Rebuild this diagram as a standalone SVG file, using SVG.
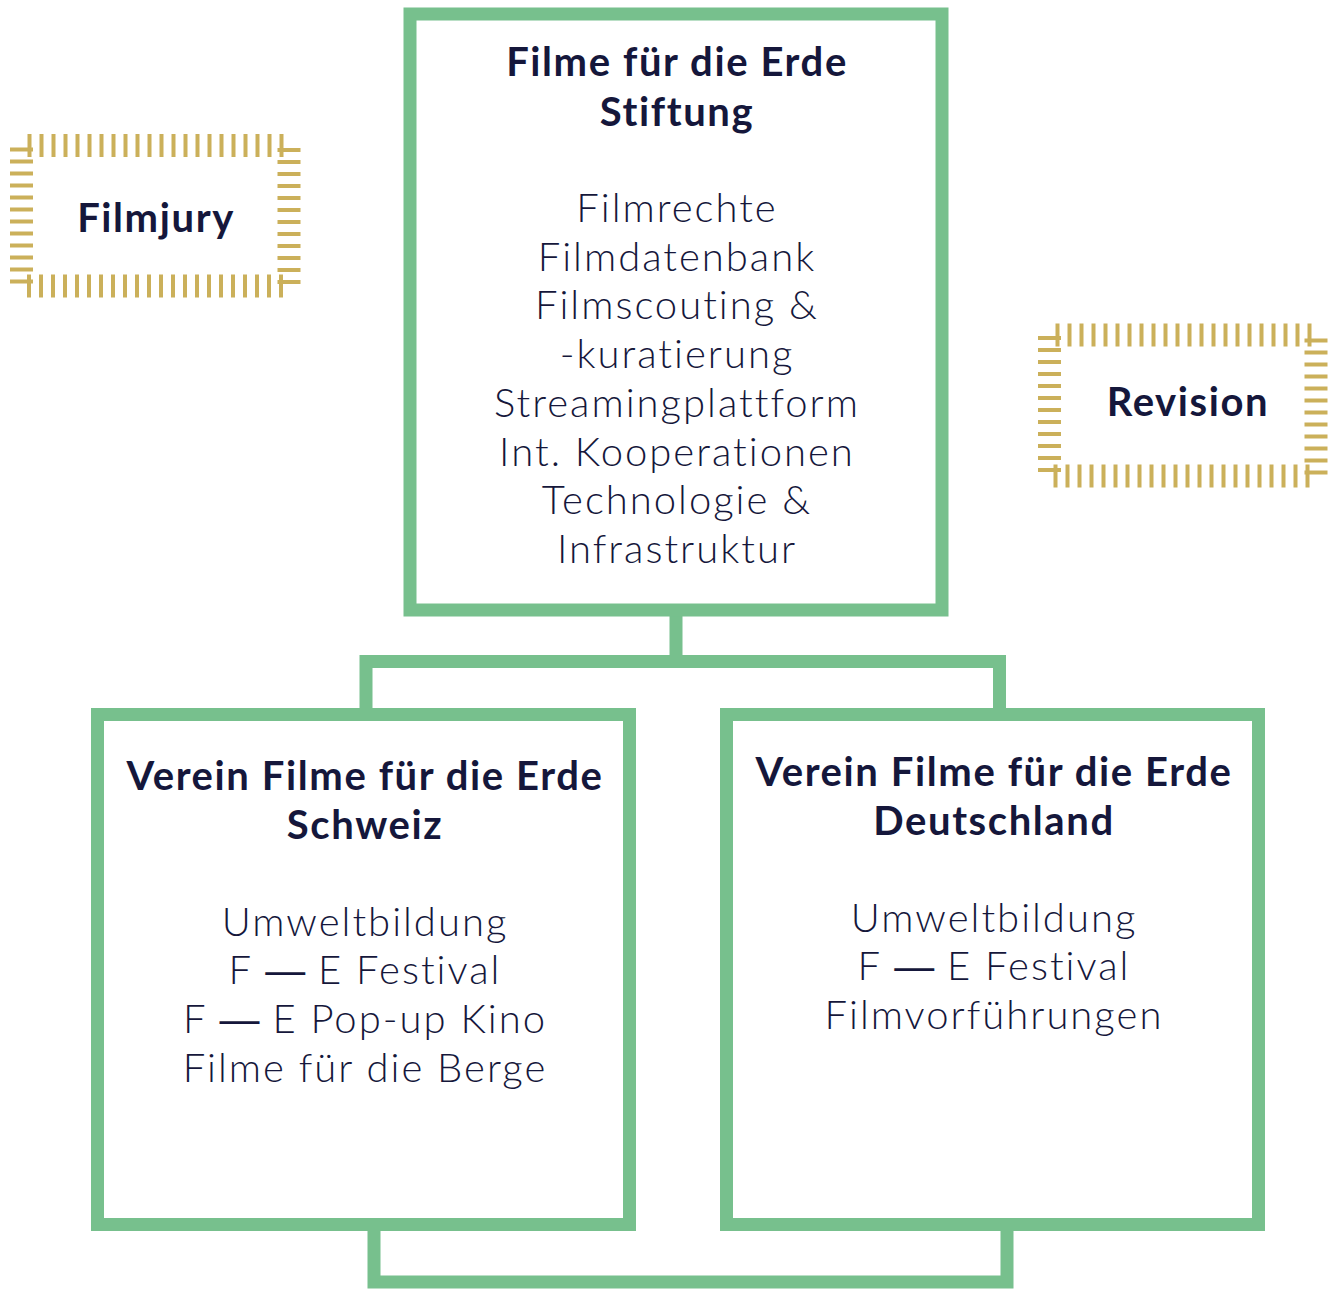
<svg xmlns="http://www.w3.org/2000/svg" width="1338" height="1289" viewBox="0 0 1338 1289">
<style>
.box{fill:#fff;stroke:#77c08d;stroke-width:13}
.con{fill:none;stroke:#77c08d;stroke-width:13;stroke-linejoin:miter;stroke-linecap:butt}
.gold{fill:none;stroke:#cbb05a;stroke-width:23;stroke-dasharray:4 8;stroke-dashoffset:6}
.t{font-family:Lato,"Open Sans","Liberation Sans",sans-serif;font-weight:700;font-size:40px;fill:#15173b;text-anchor:middle;letter-spacing:1.6px}
.b{font-family:Lato,"Open Sans","Liberation Sans",sans-serif;font-weight:300;font-size:40px;fill:#15173b;text-anchor:middle;letter-spacing:2px}
.d{font-family:"Liberation Sans",sans-serif;letter-spacing:0}
</style>
<rect width="1338" height="1289" fill="#fff"/>
<g id="connectors">
<path class="con" d="M676,616 V661.5 M366,708 V661.5 H999.5 V708"/>
<path class="con" d="M374,1231 V1282 H1007 V1231"/>
</g>
<g id="stiftung">
<rect class="box" x="410" y="14" width="532" height="596"/>
<text class="t" x="677" y="76">Filme für die Erde</text>
<text class="t" x="677" y="126">Stiftung</text>
<text class="b" x="677" y="222">Filmrechte</text>
<text class="b" x="677" y="271">Filmdatenbank</text>
<text class="b" x="677" y="319">Filmscouting &amp;</text>
<text class="b" x="677" y="368">-kuratierung</text>
<text class="b" x="677" y="417">Streamingplattform</text>
<text class="b" x="677" y="466">Int. Kooperationen</text>
<text class="b" x="677" y="514">Technologie &amp;</text>
<text class="b" x="677" y="563">Infrastruktur</text>
</g>
<g id="schweiz">
<rect class="box" x="97.5" y="714.5" width="532" height="510"/>
<text class="t" x="365" y="790">Verein Filme für die Erde</text>
<text class="t" x="365" y="839">Schweiz</text>
<text class="b" x="365" y="936">Umweltbildung</text>
<text class="b" x="365" y="984">F <tspan class="d">—</tspan> E Festival</text>
<text class="b" x="365" y="1033">F <tspan class="d">—</tspan> E Pop-up Kino</text>
<text class="b" x="365" y="1082">Filme für die Berge</text>
</g>
<g id="deutschland">
<rect class="box" x="726.5" y="714.5" width="532" height="510"/>
<text class="t" x="994" y="786">Verein Filme für die Erde</text>
<text class="t" x="994" y="835">Deutschland</text>
<text class="b" x="994" y="932">Umweltbildung</text>
<text class="b" x="994" y="980">F <tspan class="d">—</tspan> E Festival</text>
<text class="b" x="994" y="1029">Filmvorführungen</text>
</g>
<g id="filmjury">
<rect class="gold" x="21.5" y="145.5" width="267.5" height="140.5"/>
<text class="t" x="156" y="232">Filmjury</text>
</g>
<g id="revision">
<rect class="gold" x="1049.5" y="335" width="266.5" height="141"/>
<text class="t" x="1188" y="416">Revision</text>
</g>
</svg>
